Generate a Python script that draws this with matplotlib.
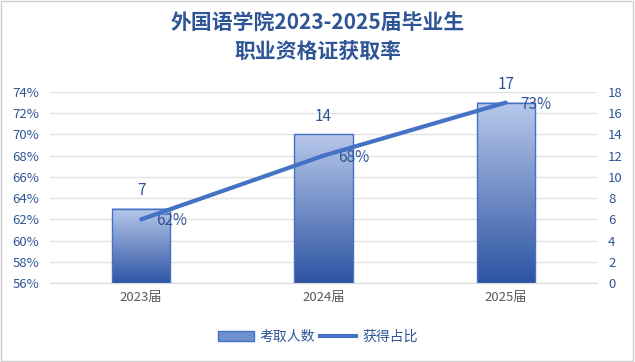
import numpy as np
import matplotlib.pyplot as plt
from matplotlib.colors import LinearSegmentedColormap
from matplotlib.patches import Patch
from matplotlib.lines import Line2D

plt.rcParams['font.family'] = ['Noto Sans CJK SC', 'DejaVu Sans']

years = ['2023届', '2024届', '2025届']
counts = [7, 14, 17]
rates = [62, 68, 73]

blue = '#4472c4'
txt = '#2f5597'
cmap = LinearSegmentedColormap.from_list('bar', ['#2e54a3', '#b7c8ea'])

fig = plt.figure(figsize=(6.35, 3.62), dpi=100)
ax = fig.add_axes([0.079, 0.218, 0.861, 0.528])
ax2 = ax.twinx()

x = np.arange(len(years))
w = 0.32
grad = np.linspace(0, 1, 256).reshape(-1, 1)
for xi, c in zip(x, counts):
    ax2.imshow(grad, extent=[xi - w / 2, xi + w / 2, 0, c], origin='lower',
               aspect='auto', cmap=cmap, zorder=2)
    ax2.bar(xi, c, w, facecolor='none', edgecolor=blue, linewidth=1, zorder=3)
    ax2.text(xi, c + 0.9, str(c), ha='center', va='bottom', fontsize=11, color=txt)

ax2.set_ylim(0, 18)
ax2.set_yticks(range(0, 19, 2))
ax.set_xlim(-0.5, 2.5)
ax2.set_xlim(-0.5, 2.5)

# line on top of the bars
ax.set_zorder(ax2.get_zorder() + 1)
ax.patch.set_visible(False)
ax.plot(x, rates, color=blue, linewidth=3, solid_capstyle='round', zorder=4)
for xi, r in zip(x, rates):
    ax.text(xi + 0.08, r - 0.15, f'{r}%', ha='left', va='center', fontsize=11, color=txt)

ax.set_ylim(56, 74)
ax.set_yticks(range(56, 75, 2))
ax.set_yticklabels([f'{v}%' for v in range(56, 75, 2)])
ax.set_xticks(x)
ax.set_xticklabels(years)

for a in (ax, ax2):
    for s in a.spines.values():
        s.set_visible(False)
    a.tick_params(length=0, labelsize=9.5, colors=txt, pad=8)
ax.tick_params(axis='x', colors='#595959', labelsize=9.5, pad=6)
ax2.spines['bottom'].set_visible(True)
ax2.spines['bottom'].set_color('#d9d9d9')
ax2.yaxis.grid(True, color='#e3e3e3', linewidth=1)
ax2.set_axisbelow(True)

fig.text(0.5, 0.936, '外国语学院2023-2025届毕业生', ha='center', va='center',
         fontsize=15, fontweight='bold', color=txt)
fig.text(0.5, 0.857, '职业资格证获取率', ha='center', va='center',
         fontsize=15, fontweight='bold', color=txt)

handles = [Patch(facecolor='#6f8fcf', edgecolor=blue, linewidth=1),
           Line2D([0], [0], color=blue, linewidth=3)]
fig.legend(handles, ['考取人数', '获得占比'], loc='center', bbox_to_anchor=(0.5, 0.07),
           ncol=2, frameon=False, fontsize=10, labelcolor=txt,
           handlelength=2.6, columnspacing=0.4, handletextpad=0.4)

fig.patches.append(plt.Rectangle((0.002, 0.003), 0.995, 0.994, transform=fig.transFigure,
                                 fill=False, edgecolor='#d0d0d0', linewidth=1))

fig.savefig('out.png', dpi=100)
